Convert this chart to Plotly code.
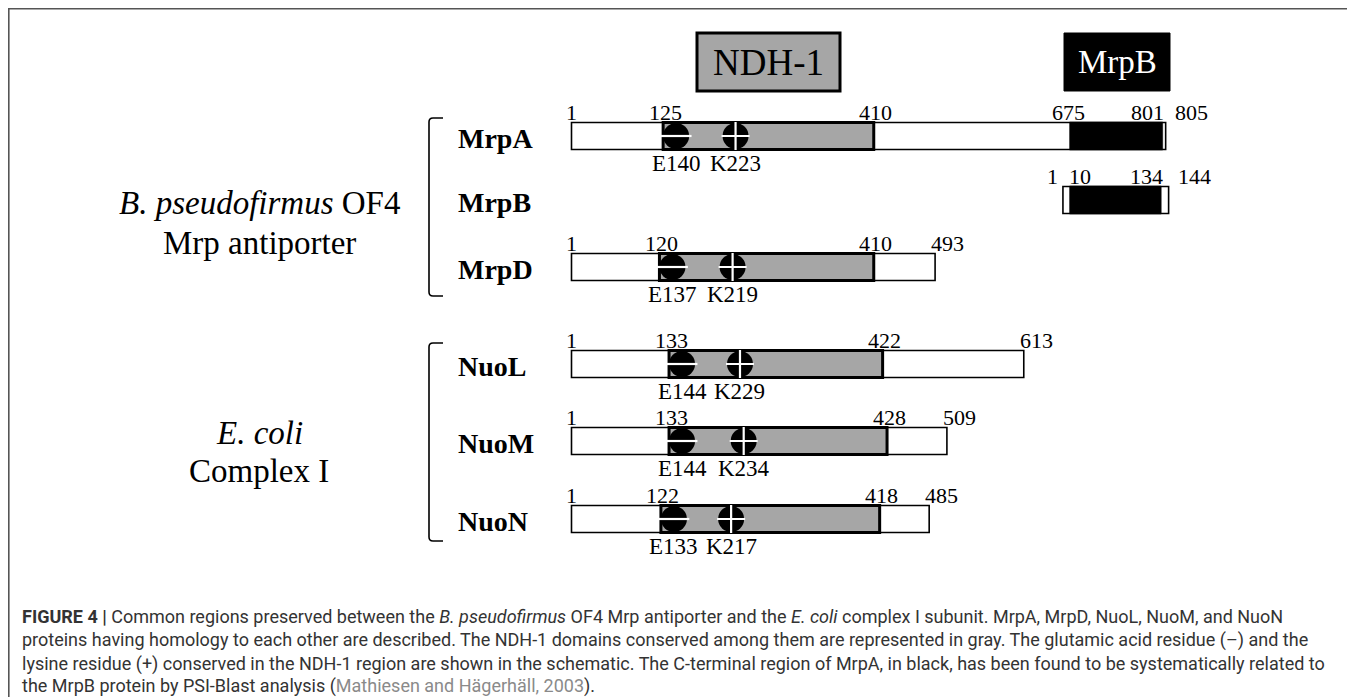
import plotly.graph_objects as go

# ---------------- data ----------------
ROWS = ["MrpA", "MrpB", "MrpD", "NuoL", "NuoM", "NuoN"]
LENGTHS = [805, 144, 493, 613, 509, 485]
NDH_START = [125, None, 120, 133, 133, 122]
NDH_END = [410, None, 410, 422, 428, 418]
E_LABELS = ["E140", None, "E137", "E144", "E144", "E133"]
E_POS = [140, None, 137, 144, 144, 133]
K_LABELS = ["K223", None, "K219", "K229", "K234", "K217"]
K_POS = [223, None, 219, 229, 234, 217]
MRPB_LIKE_START = [675, 10, None, None, None, None]
MRPB_LIKE_END = [801, 134, None, None, None, None]
MRPB_ALIGN_OFFSET = 665          # MrpB residue 10 drawn under MrpA residue 675
GROUPS = [("<i>B. pseudofirmus</i> OF4", "Mrp antiporter"), ("<i>E. coli</i>", "Complex I")]
CAPTION = [
    "<b>FIGURE 4 |</b> Common regions preserved between the <i>B. pseudofirmus</i> OF4 Mrp antiporter and the <i>E. coli</i> complex I subunit. MrpA, MrpD, NuoL, NuoM, and NuoN",
    "proteins having homology to each other are described. The NDH-1 domains conserved among them are represented in gray. The glutamic acid residue (–) and the",
    "lysine residue (+) conserved in the NDH-1 region are shown in the schematic. The C-terminal region of MrpA, in black, has been found to be systematically related to",
    "the MrpB protein by PSI-Blast analysis (<span style='color:#8a8a8a'>Mathiesen and Hägerhäll, 2003</span>).",
]

# ---------------- layout constants ----------------
SCR_W, SCR_H = 1355, 697
OFF = 8                              # page body margin
W, H = SCR_W - OFF, SCR_H - OFF      # figure size
ROW_Y = [136, 200, 267, 364, 441, 519]
BAR_H = 27
PX0, PXS = 571.5, 0.739              # screen pixel of residue 1, pixels per residue
XR = [1 - (PX0 - OFF) / PXS, 1 + (SCR_W - PX0) / PXS]
SERIF = "Liberation Serif, Times New Roman, serif"
SANS = "Roboto, Liberation Sans, Arial, sans-serif"

def px(p):
    """screen pixel -> paper fraction"""
    return (p - OFF) / W

offsets = [MRPB_ALIGN_OFFSET if r == "MrpB" else 0 for r in ROWS]

fig = go.Figure()

# full-length proteins
fig.add_trace(go.Bar(
    orientation="h", y=ROW_Y, base=[1 + o for o in offsets],
    x=[L - 1 for L in LENGTHS], width=BAR_H,
    marker=dict(color="white", line=dict(color="black", width=1.6)),
    hoverinfo="skip"))

# NDH-1 domains
idx = [i for i in range(len(ROWS)) if NDH_START[i] is not None]
fig.add_trace(go.Bar(
    orientation="h", y=[ROW_Y[i] for i in idx], base=[NDH_START[i] for i in idx],
    x=[NDH_END[i] - NDH_START[i] for i in idx], width=BAR_H,
    marker=dict(color="#a6a6a6", line=dict(color="black", width=3)),
    hoverinfo="skip"))

# MrpB-like regions
idx_b = [i for i in range(len(ROWS)) if MRPB_LIKE_START[i] is not None]
fig.add_trace(go.Bar(
    orientation="h", y=[ROW_Y[i] for i in idx_b],
    base=[MRPB_LIKE_START[i] + offsets[i] for i in idx_b],
    x=[MRPB_LIKE_END[i] - MRPB_LIKE_START[i] for i in idx_b], width=BAR_H + 1,
    marker=dict(color="black", line=dict(color="black", width=0.5)),
    hoverinfo="skip"))

# charged residues (circle shifted inside the domain edge when needed)
shift_res = 13 / PXS
e_x = [max(E_POS[i], NDH_START[i] + shift_res) for i in idx]
k_x = [K_POS[i] for i in idx]
ys = [ROW_Y[i] for i in idx]
fig.add_trace(go.Scatter(x=e_x + k_x, y=ys + ys, mode="markers",
                         marker=dict(symbol="circle", size=26, color="black"),
                         hoverinfo="skip"))
fig.add_trace(go.Scatter(x=e_x, y=ys, mode="markers",
                         marker=dict(symbol="line-ew", size=22, line=dict(color="white", width=2.2)),
                         hoverinfo="skip"))
fig.add_trace(go.Scatter(x=k_x, y=ys, mode="markers",
                         marker=dict(symbol="cross-thin", size=20, line=dict(color="white", width=2.2)),
                         hoverinfo="skip"))

ann = []
# residue labels under circles
for j, i in enumerate(idx):
    for xx, lab in ((e_x[j], E_LABELS[i]), (k_x[j], K_LABELS[i])):
        ann.append(dict(x=xx, y=ROW_Y[i] + 27, xref="x", yref="y", text=lab, showarrow=False,
                        xanchor="center", yanchor="middle",
                        font=dict(family=SERIF, size=23, color="black")))

# residue-number labels above bars
for i, r in enumerate(ROWS):
    o = offsets[i]
    nums = [(1, "center", 0)]
    if NDH_START[i] is not None:
        nums += [(NDH_START[i], "center", 2), (NDH_END[i], "center", 2)]
    if MRPB_LIKE_START[i] is not None:
        if r == "MrpB":
            nums = [(1, "right", -3), (MRPB_LIKE_START[i], "left", -3),
                    (MRPB_LIKE_END[i], "right", 4)]
        else:
            nums += [(MRPB_LIKE_START[i], "center", -1), (MRPB_LIKE_END[i], "right", 3)]
        nums += [(LENGTHS[i], "left", 7)]
    else:
        nums += [(LENGTHS[i], "left", -6)]
    for val, anc, sh in nums:
        ann.append(dict(x=val + o, y=ROW_Y[i] - 24, xref="x", yref="y", text=str(val),
                        showarrow=False, xanchor=anc, yanchor="middle", xshift=sh,
                        font=dict(family=SERIF, size=22, color="black")))

# row names
for i, r in enumerate(ROWS):
    ann.append(dict(x=px(456), y=ROW_Y[i] + 2, xref="paper", yref="y", text=f"<b>{r}</b>",
                    showarrow=False, xanchor="left", yanchor="middle",
                    font=dict(family=SERIF, size=28, color="black")))

# group names
GROUP_Y = [(203, 243), (433, 471)]
for (l1, l2), (y1, y2) in zip(GROUPS, GROUP_Y):
    for t, yy in ((l1, y1), (l2, y2)):
        ann.append(dict(x=px(259), y=yy, xref="paper", yref="y", text=t, showarrow=False,
                        xanchor="center", yanchor="middle",
                        font=dict(family=SERIF, size=33, color="black")))

# legend boxes
ann.append(dict(x=px(768), y=62, xref="paper", yref="y", text="NDH-1", showarrow=False,
                xanchor="center", yanchor="middle", font=dict(family=SERIF, size=37, color="black")))
ann.append(dict(x=px(1117), y=62, xref="paper", yref="y", text="MrpB", showarrow=False,
                xanchor="center", yanchor="middle", font=dict(family=SERIF, size=33, color="white")))

# caption
CAP_Y = [616, 640, 664, 686]
for t, yy in zip(CAPTION, CAP_Y):
    ann.append(dict(x=px(20), y=yy, xref="paper", yref="y", text=t, showarrow=False,
                    xanchor="left", yanchor="middle", font=dict(family=SANS, size=18, color="#333333")))

shapes = [
    # frame (top and left edges)
    dict(type="line", xref="paper", yref="y", x0=px(8), x1=1, y0=8.8, y1=8.8,
         line=dict(color="#555555", width=1.6)),
    dict(type="line", xref="paper", yref="y", x0=px(8.8), x1=px(8.8), y0=8, y1=SCR_H,
         line=dict(color="#555555", width=1.6)),
    # legend boxes
    dict(type="rect", xref="paper", yref="y", x0=px(697), x1=px(840), y0=33, y1=91,
         fillcolor="#a6a6a6", line=dict(color="black", width=3)),
    dict(type="rect", xref="paper", yref="y", x0=px(1064), x1=px(1170), y0=33, y1=91,
         fillcolor="black", line=dict(color="black", width=1)),
]
# brackets
for (yt, yb) in ((118, 296), (343, 541)):
    x0, x1 = px(429), px(443)
    shapes.append(dict(type="path", xref="paper", yref="y",
                       path=f"M {x1} {yt} L {px(433)} {yt} Q {x0} {yt} {x0} {yt+4} "
                            f"L {x0} {yb-4} Q {x0} {yb} {px(433)} {yb} L {x1} {yb}",
                       line=dict(color="black", width=1.6)))

fig.update_layout(
    width=W, height=H, margin=dict(l=0, r=0, t=0, b=0),
    paper_bgcolor="white", plot_bgcolor="white",
    barmode="overlay", showlegend=False,
    xaxis=dict(range=XR, visible=False, fixedrange=True),
    yaxis=dict(range=[SCR_H, OFF], visible=False, fixedrange=True),
    annotations=ann, shapes=shapes,
)
fig.write_html("out.html")
